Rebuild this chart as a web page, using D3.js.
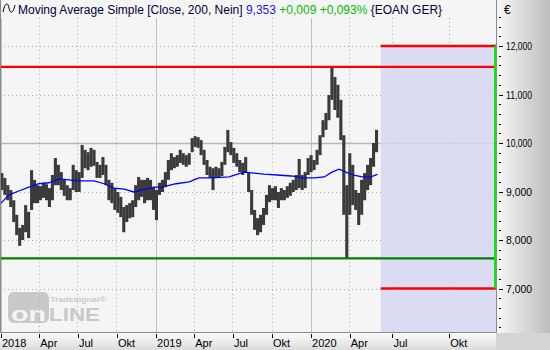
<!DOCTYPE html>
<html>
<head>
<meta charset="utf-8">
<style>
body { margin: 0; background: #fff; }
svg { display: block; font-family: "Liberation Sans", Arial, sans-serif; }
</style>
</head>
<body>
<svg id="chart" width="550" height="350"></svg>
<script src="https://cdn.jsdelivr.net/npm/d3@7"></script>
<script>
// weekly high / low of EOAN (EUR), weeks starting Mon 2018-01-01
const highs = [9.38, 9.28, 9.13, 9.03, 8.82, 8.52, 8.25, 8.31, 8.72, 8.58,
  9.44, 9.24, 9.13, 9.11, 9.18, 9.15, 9.07, 9.34, 9.69, 9.55,
  9.40, 9.24, 9.13, 9.07, 9.55, 9.44, 9.40, 9.96, 9.86, 9.81,
  9.90, 9.86, 9.61, 9.55, 9.71, 9.55, 9.24, 9.18, 9.07, 8.99,
  8.89, 8.68, 8.72, 8.76, 8.82, 9.13, 9.30, 9.24, 9.24, 9.28,
  9.24, 9.09, 9.03, 9.18, 9.24, 9.40, 9.65, 9.79, 9.71, 9.75,
  9.86, 9.79, 9.75, 9.79, 10.10, 10.14, 10.12, 10.06, 9.86, 9.65,
  9.51, 9.48, 9.51, 9.48, 9.61, 9.92, 10.27, 10.02, 9.90, 9.79,
  9.65, 9.59, 9.71, 9.40, 9.03, 8.62, 8.45, 8.52, 8.66, 8.93,
  9.13, 9.07, 9.11, 8.99, 9.07, 9.03, 9.11, 9.18, 9.24, 9.34,
  9.67, 9.34, 9.40, 9.69, 9.75, 9.65, 9.86, 10.16, 10.47, 10.62,
  10.99, 11.57, 11.36, 11.20, 10.89, 10.16, 9.13, 9.79, 9.55, 9.03,
  8.97, 9.24, 9.38, 9.55, 9.69, 10.00, 10.27];
const lows = [9.03, 8.93, 8.82, 8.68, 8.37, 8.10, 7.88, 8.00, 8.16, 8.04,
  8.62, 8.76, 8.76, 8.82, 8.87, 8.82, 8.68, 8.82, 9.13, 9.13,
  9.03, 8.91, 8.82, 8.82, 9.03, 8.99, 8.99, 9.28, 9.48, 9.44,
  9.51, 9.53, 9.28, 9.28, 9.34, 9.13, 8.82, 8.76, 8.62, 8.56,
  8.47, 8.16, 8.37, 8.45, 8.47, 8.68, 8.82, 8.89, 8.76, 8.82,
  8.82, 8.62, 8.41, 8.93, 8.99, 9.09, 9.24, 9.44, 9.48, 9.51,
  9.59, 9.55, 9.51, 9.55, 9.81, 9.92, 9.90, 9.75, 9.55, 9.34,
  9.28, 9.03, 9.28, 9.28, 9.32, 9.55, 9.81, 9.75, 9.59, 9.51,
  9.40, 9.34, 9.40, 8.99, 8.52, 8.21, 8.10, 8.16, 8.31, 8.52,
  8.78, 8.82, 8.82, 8.66, 8.82, 8.82, 8.87, 8.91, 8.99, 9.03,
  9.07, 9.03, 9.07, 9.34, 9.40, 9.44, 9.55, 9.75, 10.12, 10.27,
  10.47, 10.89, 10.68, 10.52, 10.06, 8.52, 7.62, 8.52, 8.72, 8.62,
  8.31, 8.52, 8.82, 9.03, 9.13, 9.51, 9.81];

// simple moving average, 200 days
const maDates = ["2018-01-01", "2018-01-20", "2018-02-12", "2018-03-08", "2018-03-31",
  "2018-04-24", "2018-05-18", "2018-06-10", "2018-07-04", "2018-08-08", "2018-09-01",
  "2018-09-24", "2018-10-18", "2018-11-10", "2018-11-27", "2018-12-27", "2019-01-15",
  "2019-02-17", "2019-03-20", "2019-04-12", "2019-05-13", "2019-06-22", "2019-07-27",
  "2019-08-20", "2019-09-12", "2019-10-13", "2019-11-15", "2019-12-15", "2020-01-08",
  "2020-02-01", "2020-02-19", "2020-03-07", "2020-03-23", "2020-04-11", "2020-04-30",
  "2020-05-21", "2020-06-05"];
const maValues = [8.76, 8.93, 9.01, 9.09, 9.16, 9.18, 9.26, 9.24, 9.22, 9.22, 9.16,
  9.07, 9.05, 8.99, 9.03, 9.09, 9.09, 9.16, 9.20, 9.28, 9.28, 9.30, 9.40, 9.38,
  9.36, 9.34, 9.32, 9.28, 9.28, 9.30, 9.40, 9.46, 9.40, 9.34, 9.30, 9.30, 9.353];

const resistance = 11.57, support = 7.62;
const targetHigh = 12.0, targetLow = 7.0;
const yTicks = [7, 8, 9, 10, 11, 12];
const quarterLabels = {3: "Apr", 6: "Jul", 9: "Okt"};

const W = 550, H = 350, plotR = 496, plotB = 333;
const svg = d3.select("#chart");
const de = d3.formatLocale({decimal: ",", thousands: ".", grouping: [3], currency: ["", "€"]});
const fmt = de.format(".3f");

// history in trading time, future in calendar time
const x = d3.scaleTime()
  .domain([new Date(2018, 0, 1), new Date(2020, 5, 10), new Date(2020, 11, 16)])
  .range([1, 379.5, plotR]);
const y = d3.scaleLinear().domain([7, 12]).range([288.5, 46]);

const defs = svg.append("defs");
const gr = defs.append("linearGradient").attr("id", "gr");
gr.append("stop").attr("offset", 0).attr("stop-color", "#f8f8f8");
gr.append("stop").attr("offset", 1).attr("stop-color", "#bdbdbd");
const gb = defs.append("linearGradient").attr("id", "gb").attr("x2", 0).attr("y2", 1);
gb.append("stop").attr("offset", 0).attr("stop-color", "#fbfbfb");
gb.append("stop").attr("offset", 1).attr("stop-color", "#dcdcdc");
defs.append("clipPath").attr("id", "clip")
  .append("rect").attr("x", 0).attr("y", 0).attr("width", plotR).attr("height", plotB);

// backgrounds
svg.append("rect").attr("width", plotR).attr("height", plotB).attr("fill", "#f5f5f5");
svg.append("rect").attr("x", plotR).attr("width", W - plotR).attr("height", plotB).attr("fill", "url(#gr)");
svg.append("rect").attr("y", plotB).attr("width", plotR).attr("height", H - plotB).attr("fill", "url(#gb)");
svg.append("rect").attr("x", plotR).attr("y", plotB).attr("width", W - plotR).attr("height", H - plotB).attr("fill", "#d4d4d4");

// watermark
const logo = svg.append("g").attr("fill", "#c9c9c9");
logo.append("rect").attr("x", 8).attr("y", 292).attr("width", 41).attr("height", 31).attr("rx", 6);
logo.append("text").attr("x", 11).attr("y", 321).attr("fill", "#f5f5f5")
  .attr("font-size", 21).attr("font-weight", "bold")
  .attr("textLength", 35).attr("lengthAdjust", "spacingAndGlyphs").text("on");
logo.append("text").attr("x", 49).attr("y", 321)
  .attr("font-size", 19).attr("font-weight", "bold")
  .attr("textLength", 51).attr("lengthAdjust", "spacingAndGlyphs").text("LINE");
logo.append("text").attr("x", 50).attr("y", 302)
  .attr("font-size", 7.5).attr("font-weight", "bold")
  .attr("textLength", 56).attr("lengthAdjust", "spacingAndGlyphs").text("Tradesignal®");

const plot = svg.append("g").attr("clip-path", "url(#clip)");

// grid
const quarters = d3.timeMonth.every(3).range(new Date(2018, 0, 1), new Date(2020, 11, 1));
plot.append("g").selectAll("line").data(quarters).join("line")
  .attr("x1", d => x(d)).attr("x2", d => x(d)).attr("y1", 18).attr("y2", plotB)
  .attr("stroke", d => d.getMonth() === 0 ? "#b3cbb3" : "#9cbc9c")
  .attr("stroke-dasharray", d => d.getMonth() === 0 ? null : "1,3")
  .attr("shape-rendering", "crispEdges");
plot.append("g").selectAll("line").data(yTicks).join("line")
  .attr("x1", 0).attr("x2", plotR).attr("y1", d => Math.round(y(d)) + 0.5).attr("y2", d => Math.round(y(d)) + 0.5)
  .attr("stroke", d => d === 10 ? "#b0bcb0" : "#9cbc9c")
  .attr("stroke-width", d => d === 10 ? 1.5 : 1)
  .attr("stroke-dasharray", d => d === 10 ? null : "1,3");

// forecast zone
const zoneStart = new Date(2020, 5, 12);
const xEnd = x.domain()[2];
plot.append("rect").attr("x", x(zoneStart)).attr("y", y(targetHigh))
  .attr("width", x(xEnd) - x(zoneStart)).attr("height", plotB - y(targetHigh))
  .attr("fill", "#d4d4f4").attr("opacity", 0.8);

// price bars
const weekStart = new Date(2018, 0, 1);
const bars = highs.map((h, i) => ({date: d3.timeDay.offset(weekStart, 7 * i + 2), high: h, low: lows[i]}));
plot.append("g").selectAll("line").data(bars).join("line")
  .attr("x1", d => x(d.date)).attr("x2", d => x(d.date))
  .attr("y1", d => y(d.high)).attr("y2", d => y(d.low))
  .attr("stroke", "#3a3a3a").attr("stroke-width", 3.1);

// moving average
const ma = maDates.map((d, i) => ({date: d3.timeParse("%Y-%m-%d")(d), value: maValues[i]}));
plot.append("path").datum(ma)
  .attr("d", d3.line().x(d => x(d.date)).y(d => y(d.value)))
  .attr("fill", "none").attr("stroke", "#0000ff").attr("stroke-width", 1.3);

// horizontal levels
const levels = [
  {v: resistance, from: x.domain()[0], color: "#ff0000", w: 2.4},
  {v: support, from: x.domain()[0], color: "#008000", w: 2.2},
  {v: targetHigh, from: zoneStart, color: "#ff0000", w: 2.4},
  {v: targetLow, from: zoneStart, color: "#ff0000", w: 2.4}
];
plot.append("g").selectAll("line").data(levels).join("line")
  .attr("x1", d => d.from === x.domain()[0] ? 0 : x(d.from)).attr("x2", plotR)
  .attr("y1", d => y(d.v)).attr("y2", d => y(d.v))
  .attr("stroke", d => d.color).attr("stroke-width", d => d.w);
plot.append("line").attr("x1", plotR - 1).attr("x2", plotR - 1)
  .attr("y1", y(targetHigh)).attr("y2", y(targetLow))
  .attr("stroke", "#00ee00").attr("stroke-width", 2);

// frame
svg.append("path").attr("d", `M0.5,0V${plotB - 0.5}H${plotR + 0.5}V0`)
  .attr("fill", "none").attr("stroke", "#8a8a8a");

// right axis
const yAxis = svg.append("g").attr("font-size", 11).attr("fill", "#000");
const minor = d3.range(62, 127, 2).map(d => d / 10);
yAxis.selectAll("line.minor").data(minor).join("line").attr("class", "minor")
  .attr("x1", plotR + 3).attr("x2", plotR + 5)
  .attr("y1", d => Math.round(y(d)) + 0.5).attr("y2", d => Math.round(y(d)) + 0.5)
  .attr("stroke", "#000");
yAxis.selectAll("line.major").data(yTicks).join("line").attr("class", "major")
  .attr("x1", plotR + 3).attr("x2", plotR + 7)
  .attr("y1", d => Math.round(y(d)) + 0.5).attr("y2", d => Math.round(y(d)) + 0.5)
  .attr("stroke", "#000");
yAxis.selectAll("text").data(yTicks).join("text")
  .attr("x", plotR + 10).attr("y", d => y(d) + 4)
  .attr("textLength", 26).attr("lengthAdjust", "spacingAndGlyphs")
  .text(d => fmt(d));
svg.append("text").attr("x", plotR + 8).attr("y", 14).attr("font-size", 12).text("€");

// bottom axis
const xAxis = svg.append("g").attr("font-size", 11);
xAxis.selectAll("line").data(quarters).join("line")
  .attr("x1", d => Math.round(x(d)) + 0.5).attr("x2", d => Math.round(x(d)) + 0.5)
  .attr("y1", plotB + 1).attr("y2", plotB + 5).attr("stroke", "#000");
xAxis.selectAll("text").data(quarters).join("text")
  .attr("x", d => x(d) + 1).attr("y", H - 3)
  .text(d => d.getMonth() === 0 ? d.getFullYear() : quarterLabels[d.getMonth()]);

// title
const title = svg.append("g");
title.append("path").attr("d", "M3,12 C5,2 8,2 9,8 S13,14 15,5")
  .attr("fill", "none").attr("stroke", "#000").attr("stroke-width", 1);
const t = title.append("text").attr("x", 18).attr("y", 14).attr("font-size", 12);
t.append("tspan").attr("fill", "#000040").text("Moving Average Simple [Close, 200, Nein] ");
t.append("tspan").attr("fill", "#2020e0").text(fmt(maValues[maValues.length - 1]) + " ");
t.append("tspan").attr("fill", "#00bb00").text("+0,009 +0,093% ");
t.append("tspan").attr("fill", "#000040").text("{EOAN GER}");
</script>
</body>
</html>
